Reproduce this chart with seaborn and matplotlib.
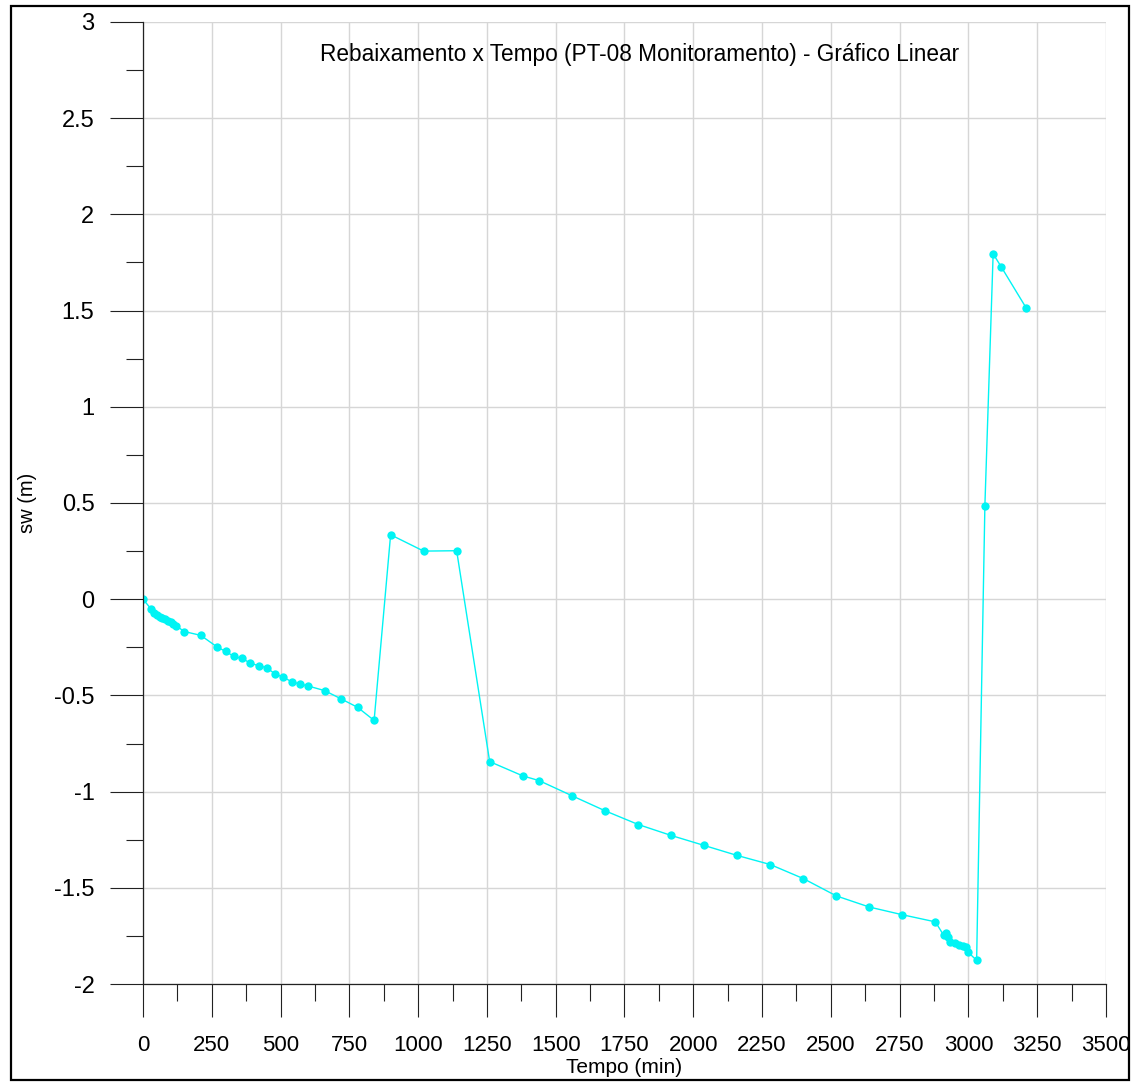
import numpy as np
import pandas as pd
import seaborn as sns
import matplotlib.pyplot as plt
from matplotlib.patches import Rectangle
from matplotlib.ticker import MultipleLocator

# dados: tempo (min) e rebaixamento sw (m)
tempo = [0, 30, 40, 50, 60, 70, 80, 90, 100, 110, 120, 150, 210,
         270, 300, 330, 360, 390, 420, 450, 480, 510, 540, 570, 600,
         660, 720, 780, 840, 900, 1020, 1140,
         1260, 1380, 1440, 1560, 1680, 1800, 1920, 2040, 2160, 2280,
         2400, 2520, 2640, 2760, 2880,
         2910, 2920, 2925, 2935, 2950, 2965, 2980, 2990, 3000, 3030,
         3060, 3090, 3120, 3210]
sw = [0, -0.052, -0.073, -0.083, -0.090, -0.099, -0.104, -0.112, -0.121, -0.130, -0.138,
      -0.168, -0.188,
      -0.249, -0.271, -0.297, -0.308, -0.332, -0.346, -0.356, -0.389, -0.405, -0.429,
      -0.441, -0.451,
      -0.475, -0.518, -0.562, -0.630, 0.335, 0.250, 0.252,
      -0.844, -0.918, -0.943, -1.022, -1.100, -1.171, -1.228, -1.280, -1.332, -1.379,
      -1.452, -1.542, -1.600, -1.640, -1.677,
      -1.746, -1.733, -1.754, -1.780, -1.786, -1.798, -1.802, -1.810, -1.836, -1.877,
      0.487, 1.795, 1.726, 1.514]

titulo = 'Rebaixamento x Tempo (PT-08 Monitoramento) - Gráfico Linear'

df = pd.DataFrame({'tempo': tempo, 'sw': sw})

sns.set_style('white')
plt.rcParams['font.family'] = ['Liberation Sans', 'DejaVu Sans']
plt.rcParams['text.color'] = 'black'
plt.rcParams['axes.labelcolor'] = 'black'
plt.rcParams['xtick.labelcolor'] = 'black'
plt.rcParams['ytick.labelcolor'] = 'black'

fig = plt.figure(figsize=(11.35, 10.83), dpi=100)
ax = fig.add_axes([0.126, 0.0914, 0.8484, 0.8883])

sns.lineplot(data=df, x='tempo', y='sw', ax=ax, color='#00f4f4', lw=1.0,
             marker='o', markersize=6, markeredgewidth=0, sort=False, estimator=None)

ax.set_xlim(0, 3500)
ax.set_ylim(-2, 3)
ax.xaxis.set_major_locator(MultipleLocator(250))
ax.xaxis.set_minor_locator(MultipleLocator(125))
ax.yaxis.set_major_locator(MultipleLocator(0.5))
ax.yaxis.set_minor_locator(MultipleLocator(0.25))
ax.set_xticklabels([f'{v:g}' for v in ax.get_xticks()])
ax.set_yticklabels([f'{v:g}' for v in ax.get_yticks()])

ax.grid(True, which='major', color='#d6d6d6', lw=1.0)
ax.tick_params(which='major', direction='out', length=24, width=0.8, color='#222222',
               bottom=True, left=True)
ax.tick_params(which='minor', direction='out', length=12, width=0.8, color='#222222',
               bottom=True, left=True)
ax.tick_params(axis='y', labelsize=17, pad=11, labelcolor='black')
ax.tick_params(axis='x', labelsize=16, pad=13, labelcolor='black')

for s in ['top', 'right']:
    ax.spines[s].set_visible(False)
for s in ['left', 'bottom']:
    ax.spines[s].set_color('#222222')
    ax.spines[s].set_linewidth(0.9)

ax.set_xlabel('Tempo (min)', fontsize=15, va='center', color='black')
ax.xaxis.set_label_coords(0.5, -0.087)
ax.set_ylabel('sw (m)', fontsize=14.5, va='center', color='black')
ax.yaxis.set_label_coords(-0.12, 0.5)

ax.text(0.516, 0.966, titulo, transform=ax.transAxes, ha='center', va='center',
        fontsize=16.3, color='black')

# moldura em volta da figura
fig.patches.append(Rectangle((0.0097, 0.0028), 0.985, 0.9917, transform=fig.transFigure,
                             fill=False, edgecolor='black', lw=1.6))

fig.savefig('out.png', dpi=100)
